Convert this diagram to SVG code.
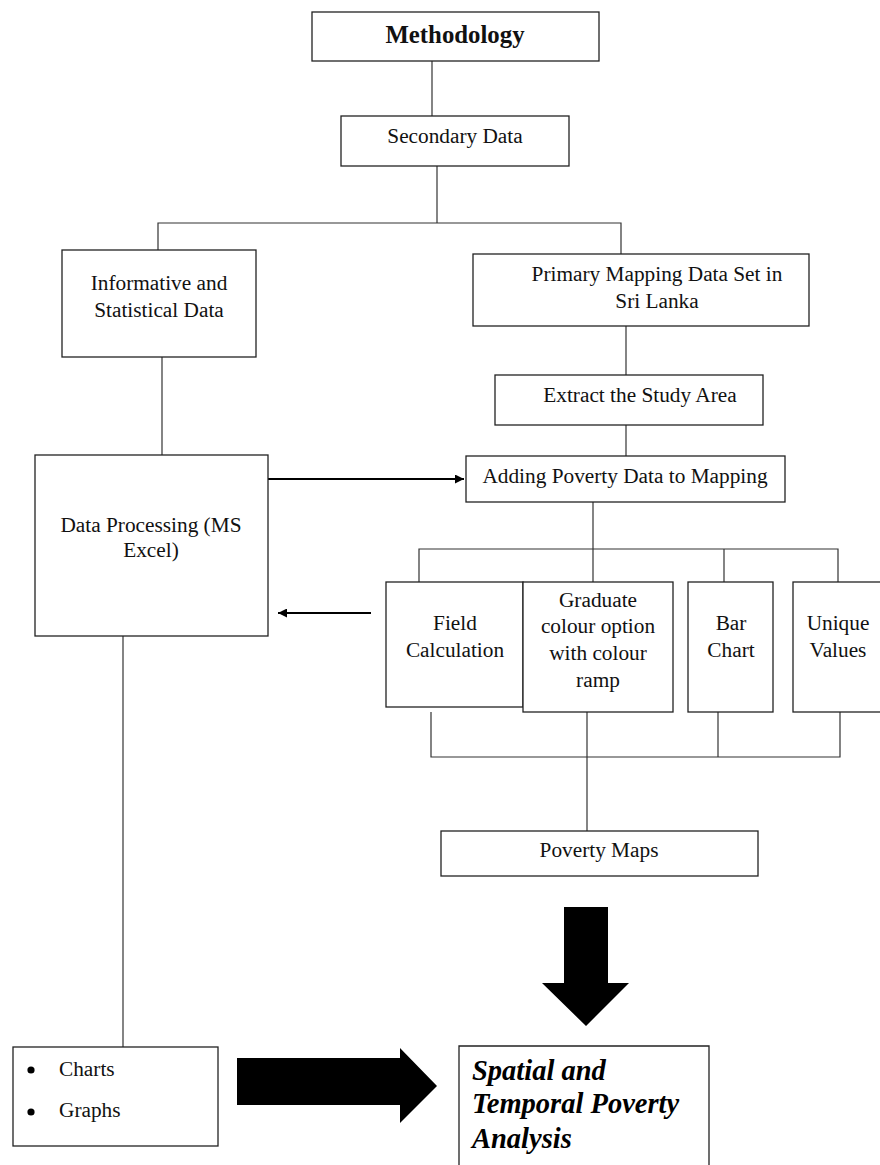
<svg xmlns="http://www.w3.org/2000/svg" width="880" height="1165" viewBox="0 0 880 1165">
<defs>
<style>
.box{fill:#fff;stroke:#222;stroke-width:1.3}
.ln{fill:none;stroke:#333;stroke-width:1.2}
.ar{fill:none;stroke:#000;stroke-width:2}
.t{font-family:"Liberation Serif","Times New Roman",serif;font-size:21.3px;fill:#111;text-anchor:middle}
.tb{font-family:"Liberation Serif","Times New Roman",serif;font-size:24.8px;font-weight:bold;fill:#111;text-anchor:middle}
.ti{font-family:"Liberation Serif","Times New Roman",serif;font-size:28.5px;font-weight:bold;font-style:italic;fill:#000}
.tl{font-family:"Liberation Serif","Times New Roman",serif;font-size:21.3px;fill:#111}
</style>
<marker id="ah" viewBox="0 0 10 10" refX="10" refY="5" markerWidth="11" markerHeight="9" markerUnits="userSpaceOnUse" orient="auto">
<path d="M0,0 L10,5 L0,10 Z" fill="#000"/>
</marker>
</defs>
<rect width="880" height="1165" fill="#fff"/>
<g id="connectors">
<path class="ln" d="M432,61 V116"/>
<path class="ln" d="M437,166 V223"/>
<path class="ln" d="M158,250 V223 H621 V254"/>
<path class="ln" d="M626,326 V375"/>
<path class="ln" d="M626,425 V456"/>
<path class="ln" d="M162,357 V455"/>
<path class="ar" d="M268,479 H464" marker-end="url(#ah)"/>
<path class="ln" d="M593,502 V549"/>
<path class="ln" d="M419,582 V549 H838 V582"/>
<path class="ln" d="M593,549 V582"/>
<path class="ln" d="M724,549 V582"/>
<path class="ar" d="M371,613 H278" marker-end="url(#ah)"/>
<path class="ln" d="M431,712 V757 H840 V712"/>
<path class="ln" d="M587,712 V831"/>
<path class="ln" d="M718,712 V757"/>
<path class="ln" d="M123,636 V1047"/>
<polygon points="564,907 608,907 608,983 629,983 586,1026 542,983 564,983" fill="#000"/>
<polygon points="237,1058 400,1058 400,1048 437,1086 400,1123 400,1105 237,1105" fill="#000"/>
</g>
<g id="methodology">
<rect class="box" x="312" y="12" width="287" height="49"/>
<text class="tb" x="455" y="43">Methodology</text>
</g>
<g id="secondary">
<rect class="box" x="341" y="116" width="228" height="50"/>
<text class="t" x="455" y="143">Secondary Data</text>
</g>
<g id="informative">
<rect class="box" x="62" y="250" width="194" height="107"/>
<text class="t" x="159" y="290">Informative and</text>
<text class="t" x="159" y="317">Statistical Data</text>
</g>
<g id="primary">
<rect class="box" x="473" y="254" width="336" height="72"/>
<text class="t" x="657" y="281">Primary Mapping Data Set in</text>
<text class="t" x="657" y="308">Sri Lanka</text>
</g>
<g id="extract">
<rect class="box" x="495" y="375" width="268" height="50"/>
<text class="t" x="640" y="402">Extract the Study Area</text>
</g>
<g id="processing">
<rect class="box" x="35" y="455" width="233" height="181"/>
<text class="t" x="151" y="532">Data Processing (MS</text>
<text class="t" x="151" y="557">Excel)</text>
</g>
<g id="adding">
<rect class="box" x="466" y="456" width="319" height="46"/>
<text class="t" x="625" y="483">Adding Poverty Data to Mapping</text>
</g>
<g id="field">
<rect class="box" x="386" y="582" width="137" height="125"/>
<text class="t" x="455" y="630">Field</text>
<text class="t" x="455" y="657">Calculation</text>
</g>
<g id="graduate">
<rect class="box" x="523" y="582" width="150" height="130"/>
<text class="t" x="598" y="607">Graduate</text>
<text class="t" x="598" y="633">colour option</text>
<text class="t" x="598" y="660">with colour</text>
<text class="t" x="598" y="687">ramp</text>
</g>
<g id="barchart">
<rect class="box" x="688" y="582" width="85" height="130"/>
<text class="t" x="731" y="630">Bar</text>
<text class="t" x="731" y="657">Chart</text>
</g>
<g id="unique">
<rect class="box" x="793" y="582" width="90" height="130"/>
<text class="t" x="838" y="630">Unique</text>
<text class="t" x="838" y="657">Values</text>
</g>
<g id="povertymaps">
<rect class="box" x="441" y="831" width="317" height="45"/>
<text class="t" x="599" y="857">Poverty Maps</text>
</g>
<g id="charts">
<rect class="box" x="13" y="1047" width="205" height="99"/>
<circle cx="31" cy="1070" r="3.6" fill="#000"/>
<circle cx="31" cy="1112" r="3.6" fill="#000"/>
<text class="tl" x="59" y="1076">Charts</text>
<text class="tl" x="59" y="1117">Graphs</text>
</g>
<g id="analysis">
<path class="box" d="M459,1166 V1046 H709 V1166"/>
<text class="ti" x="472" y="1080">Spatial and</text>
<text class="ti" x="472" y="1113">Temporal Poverty</text>
<text class="ti" x="472" y="1148">Analysis</text>
</g>
</svg>
